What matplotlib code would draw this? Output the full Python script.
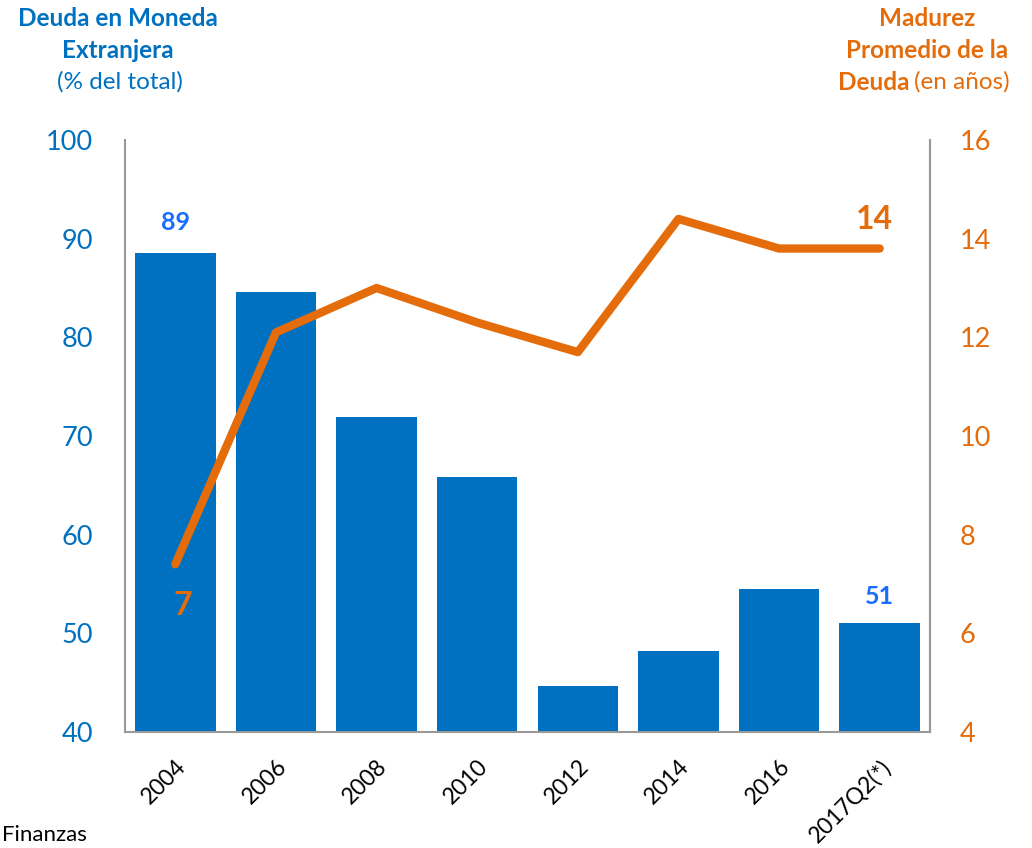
import matplotlib
matplotlib.use("Agg")
import matplotlib.pyplot as plt

plt.rcParams['font.family'] = ['Lato', 'DejaVu Sans']

categories = ["2004", "2006", "2008", "2010", "2012", "2014", "2016", "2017Q2(*)"]
deuda_me = [88.5, 84.6, 71.9, 65.8, 44.7, 48.2, 54.5, 51.0]
madurez = [7.4, 12.1, 13.0, 12.3, 11.7, 14.4, 13.8, 13.8]
left_ticks = [40, 50, 60, 70, 80, 90, 100]
right_ticks = [4, 6, 8, 10, 12, 14, 16]

BLUE = "#0070C0"
LBLUE = "#1A6EFF"
ORANGE = "#E46C0A"
GRAY = "#999999"

fig = plt.figure(figsize=(10.32, 8.48), dpi=100)
ax = fig.add_axes([125/1032, 116/848, 805/1032, 592/848])
x = list(range(len(categories)))
ax.bar(x, [v - 40 for v in deuda_me], bottom=40, width=0.8, color=BLUE, zorder=2)
ax.set_xlim(-0.5, len(categories) - 0.5)
ax.set_ylim(40, 100)
ax.set_yticks(left_ticks)
ax.tick_params(axis='y', length=0, pad=23, labelsize=19.5, labelcolor=BLUE)
ax.set_xticks(x)
ax.set_xticklabels(categories, rotation=45, ha='right', rotation_mode='anchor', fontsize=16.5)
ax.tick_params(axis='x', length=0, pad=17)
ax.spines['top'].set_visible(False)
for s in ['left', 'bottom', 'right']:
    ax.spines[s].set_color(GRAY)
    ax.spines[s].set_linewidth(1.5)

ax2 = ax.twinx()
ax2.plot(x, madurez, color=ORANGE, lw=6, solid_capstyle='round', solid_joinstyle='round', zorder=3)
ax2.set_ylim(4, 16)
ax2.set_yticks(right_ticks)
ax2.tick_params(axis='y', length=0, pad=21.5, labelsize=19.5, labelcolor=ORANGE)
for s in ['top', 'left', 'bottom']:
    ax2.spines[s].set_visible(False)
ax2.spines['right'].set_color(GRAY)
ax2.spines['right'].set_linewidth(1.5)

# annotations
ax.text(x[0], deuda_me[0] + 2.0, "89", color=LBLUE, fontsize=18, fontweight='bold', ha='center', va='bottom')
ax.text(x[-1], deuda_me[-1] + 1.6, "51", color=LBLUE, fontsize=18, fontweight='bold', ha='center', va='bottom')
ax2.text(x[0] + 0.07, madurez[0] - 0.55, "7", color=ORANGE, fontsize=23, fontweight='bold', ha='center', va='top')
ax2.text(x[-1] - 0.05, madurez[-1] + 0.3, "14", color=ORANGE, fontsize=23, fontweight='bold', ha='center', va='bottom')

# titles
fs = 17.5
fig.text(118/1032, 1 - 18/848, "Deuda en Moneda", color=BLUE, fontsize=fs, fontweight='bold', ha='center', va='center')
fig.text(118/1032, 1 - 50/848, "Extranjera", color=BLUE, fontsize=fs, fontweight='bold', ha='center', va='center')
fig.text(120/1032, 1 - 82/848, "(% del total)", color=BLUE, fontsize=fs, ha='center', va='center')

fig.text(927/1032, 1 - 18/848, "Madurez", color=ORANGE, fontsize=fs, fontweight='bold', ha='center', va='center')
fig.text(927/1032, 1 - 50/848, "Promedio de la", color=ORANGE, fontsize=fs, fontweight='bold', ha='center', va='center')
fig.text(909/1032, 1 - 82/848, "Deuda", color=ORANGE, fontsize=fs, fontweight='bold', ha='right', va='center')
fig.text(914/1032, 1 - 82/848, "(en años)", color=ORANGE, fontsize=fs, ha='left', va='center')

fig.text(2/1032, 1 - 845/848, "Finanzas", color="black", fontsize=16, ha='left', va='bottom')

fig.savefig("out.png", dpi=100)
